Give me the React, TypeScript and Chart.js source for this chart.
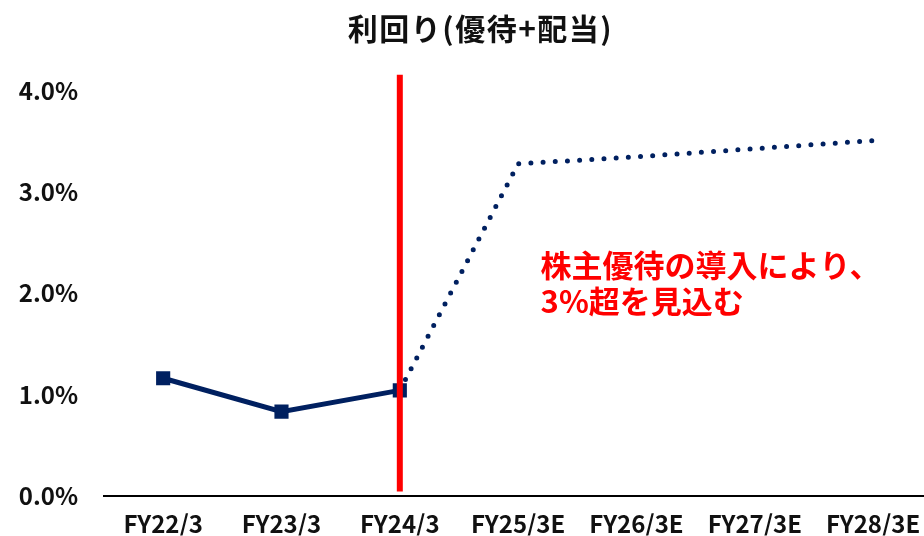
import React, { useEffect, useRef } from "react";
import { Chart, registerables } from "chart.js";

Chart.register(...registerables);

const TITLE = "利回り(優待+配当)";
const CATEGORIES = ["FY22/3", "FY23/3", "FY24/3", "FY25/3E", "FY26/3E", "FY27/3E", "FY28/3E"];
const ACTUAL = [1.16, 0.83, 1.04, null, null, null, null];
const FORECAST = [null, null, 1.04, 3.28, 3.35, 3.43, 3.51];
const Y_TICKS = [0, 1, 2, 3, 4];
const MARKER_INDEX = 2;
const MARKER_RANGE = [0.04, 4.16];
const NOTE_LINES = ["株主優待の導入により、", "3%超を見込む"];
const NOTE_X = 3.19;
const NOTE_Y = [2.28, 1.92];

const NAVY = "#002060";
const RED = "#FF0000";
const FONT = "'Noto Sans CJK JP', 'Noto Sans', sans-serif";

export default function App() {
  const ref = useRef<HTMLCanvasElement | null>(null);

  useEffect(() => {
    document.body.style.margin = "0";
    const canvas = ref.current;
    if (!canvas) return;

    const overlay = {
      id: "overlay",
      afterDatasetsDraw(chart: any) {
        const { ctx, scales } = chart;
        const x = scales.x.getPixelForValue(MARKER_INDEX);
        ctx.save();
        ctx.strokeStyle = RED;
        ctx.lineWidth = 6;
        ctx.beginPath();
        ctx.moveTo(x, scales.y.getPixelForValue(MARKER_RANGE[1]));
        ctx.lineTo(x, scales.y.getPixelForValue(MARKER_RANGE[0]));
        ctx.stroke();
        ctx.restore();
      },
      afterDraw(chart: any) {
        const { ctx, scales } = chart;
        ctx.save();
        ctx.fillStyle = "#111111";
        ctx.font = `bold 30px ${FONT}`;
        try { (ctx as any).letterSpacing = "1.5px"; } catch (e) {}
        ctx.textAlign = "center";
        ctx.textBaseline = "middle";
        ctx.fillText(TITLE, chart.width * 0.52, 29);
        try { (ctx as any).letterSpacing = "0px"; } catch (e) {}
        ctx.fillStyle = RED;
        ctx.font = `bold 31px ${FONT}`;
        ctx.textAlign = "left";
        NOTE_LINES.forEach((t, i) => {
          ctx.fillText(t, scales.x.getPixelForValue(NOTE_X), scales.y.getPixelForValue(NOTE_Y[i]));
        });
        ctx.restore();
      },
    };

    const chart = new Chart(canvas, {
      type: "line",
      data: {
        datasets: [
          {
            data: ACTUAL.map((v, i) => ({ x: i, y: v })) as any,
            borderColor: NAVY,
            backgroundColor: NAVY,
            borderWidth: 5,
            pointStyle: "rect",
            pointRadius: 10,
            pointHoverRadius: 10,
            pointBorderWidth: 0,
            spanGaps: false,
          },
          {
            data: FORECAST.map((v, i) => ({ x: i, y: v })) as any,
            borderColor: NAVY,
            borderWidth: 5,
            borderDash: [0, 12.2],
            borderCapStyle: "round",
            pointRadius: 0,
            spanGaps: false,
          },
        ],
      },
      options: {
        animation: false,
        responsive: false,
        layout: { autoPadding: false, padding: { top: 91, right: 0, left: 0, bottom: 0 } },
        plugins: { legend: { display: false }, title: { display: false }, tooltip: { enabled: false } },
        scales: {
          x: {
            type: "linear",
            min: -0.5,
            max: 6.43,
            afterBuildTicks: (s: any) => {
              s.ticks = CATEGORIES.map((_, i) => ({ value: i }));
            },
            afterFit: (s: any) => {
              s.height = 40;
              s.paddingLeft = 0;
              s.paddingRight = 0;
            },
            ticks: {
              callback: (v: any) => CATEGORIES[v] ?? "",
              color: "#111111",
              font: { family: FONT, size: 24, weight: "bold" },
              padding: 14,
              maxRotation: 0,
              autoSkip: false,
            },
            grid: { display: false, drawTicks: false },
            border: { display: true, color: "#000000", width: 2 },
          },
          y: {
            min: 0,
            max: 4,
            afterBuildTicks: (s: any) => {
              s.ticks = Y_TICKS.map((v) => ({ value: v }));
            },
            afterFit: (s: any) => {
              s.width = 104;
            },
            ticks: {
              callback: (v: any) => Number(v).toFixed(1) + "%",
              color: "#111111",
              font: { family: FONT, size: 24, weight: "bold" },
              padding: 26,
            },
            grid: { display: false, drawTicks: false },
            border: { display: false },
          },
        },
      },
      plugins: [overlay],
    });

    return () => chart.destroy();
  }, []);

  return <canvas ref={ref} width={924} height={536} style={{ display: "block" }} />;
}
